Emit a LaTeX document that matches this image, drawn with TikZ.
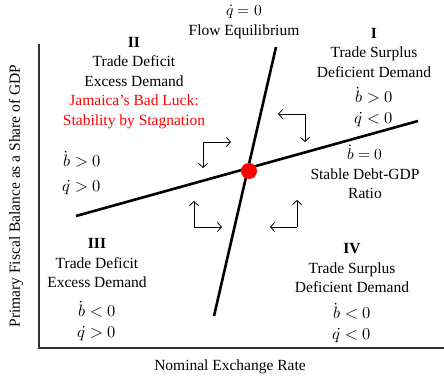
\documentclass[tikz,border=0pt]{standalone}
\usepackage{fontspec}
\usepackage{unicode-math}
\setmainfont{Liberation Serif}
\usetikzlibrary{positioning, arrows.meta}
\tikzset{>={Straight Barb[length=4pt,width=9pt]}}
\tikzset{
    txt/.style={align=center, inner sep=0pt, font=\fontsize{15.5}{19.5}\selectfont},
    sign/.style={txt, font=\fontsize{16.5}{21}\selectfont},
    curve/.style={line width=2.6pt},
    axis/.style={line width=1.3pt, draw=black!80},
    flow/.style={line width=0.8pt, ->}
}

\begin{document}
\begin{tikzpicture}[x=1pt, y=-1pt]
    \useasboundingbox (0,0) rectangle (444,377);

    % axes
    \coordinate (O) at (39,348);
    \coordinate (Ytop) at (39,44);
    \coordinate (Xend) at (444,348);
    \draw[axis] (Ytop) -- (O) -- (Xend);

    % loci
    \coordinate (QA) at (276,47);
    \coordinate (QB) at (214,316);
    \coordinate (BA) at (76,216);
    \coordinate (BB) at (418,121);
    \draw[curve] (QA) -- (QB);
    \draw[curve] (BA) -- (BB);
    \fill[red] (249,171) circle (8pt) coordinate (E);

    % adjustment arrows
    \coordinate (c2) at (203,142);
    \draw[flow] (c2) -- ++(28,0);
    \draw[flow] (c2) -- ++(0,26);
    \coordinate (c1) at (305,114);
    \draw[flow] (c1) -- ++(-27,0);
    \draw[flow] (c1) -- ++(0,28);
    \coordinate (c3) at (194,227);
    \draw[flow] (c3) -- ++(0,-26);
    \draw[flow] (c3) -- ++(28,0);
    \coordinate (c4) at (297,227);
    \draw[flow] (c4) -- ++(0,-27);
    \draw[flow] (c4) -- ++(-27,0);

    % labels
    \node[txt] (qlocus) at (244,22) {$\dot q = 0$\\Flow Equilibrium};
    \node[txt] (quadI) at (374,53) {\textbf{I}\\Trade Surplus\\Deficient Demand};
    \node[sign] (signI) at (374,107) {$\dot b > 0$\\$\dot q < 0$};
    \node[txt] (quadII) at (134,83) {\textbf{II}\\Trade Deficit\\Excess Demand\\
        \textcolor{red}{Jamaica's Bad Luck:}\\\textcolor{red}{Stability by Stagnation}};
    \node[sign] (signII) at (82,173) {$\dot b > 0$\\[4pt]$\dot q > 0$};
    \node[txt] (blocus) at (365,172) {$\dot b = 0$\\Stable Debt-GDP\\Ratio};
    \node[txt] (quadIII) at (97,263) {\textbf{III}\\Trade Deficit\\Excess Demand};
    \node[sign] (signIII) at (97,321) {$\dot b < 0$\\$\dot q > 0$};
    \node[txt] (quadIV) at (352,268) {\textbf{IV}\\Trade Surplus\\Deficient Demand};
    \node[sign] (signIV) at (352,323) {$\dot b < 0$\\$\dot q < 0$};

    \node[txt, rotate=90] (ylab) at (16,196) {Primary Fiscal Balance as a Share of GDP};
    \node[txt] (xlab) at (230,367) {Nominal Exchange Rate};
\end{tikzpicture}
\end{document}
